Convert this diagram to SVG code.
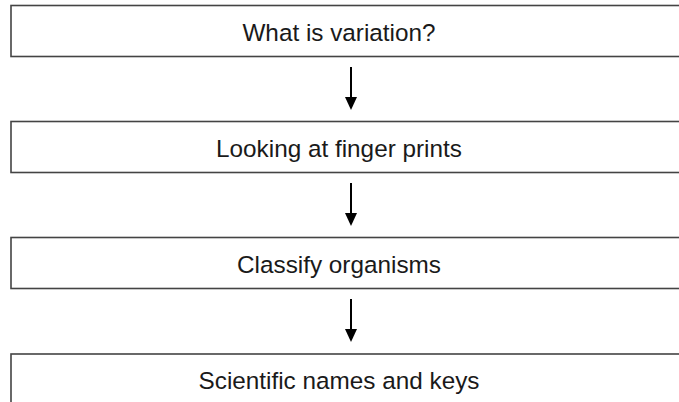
<svg xmlns="http://www.w3.org/2000/svg" width="679" height="402" viewBox="0 0 679 402">
  <style>
    .box { fill: #ffffff; stroke: #444444; stroke-width: 1.6; }
    .label { font-family: "Liberation Sans", Arial, sans-serif; font-size: 24.3px; fill: #1a1a1a; text-anchor: middle; }
    .conn { stroke: #000000; stroke-width: 2; fill: none; }
  </style>
  <rect width="679" height="402" fill="#ffffff"/>
  <g id="node-variation">
    <rect class="box" x="11" y="5.5" width="690" height="51"/>
    <text class="label" x="339" y="41">What is variation?</text>
  </g>
  <g id="node-fingerprints">
    <rect class="box" x="11" y="121.5" width="690" height="51"/>
    <text class="label" x="339" y="157">Looking at finger prints</text>
  </g>
  <g id="node-classify">
    <rect class="box" x="11" y="237.5" width="690" height="51"/>
    <text class="label" x="339" y="273">Classify organisms</text>
  </g>
  <g id="node-scientific">
    <rect class="box" x="11" y="354" width="690" height="60"/>
    <text class="label" x="339" y="389">Scientific names and keys</text>
  </g>
  <g id="connectors">
    <path d="M351,67 V97" class="conn"/>
    <path d="M345,97 L357,97 L351,110 Z" fill="#000"/>
    <path d="M351,183 V213" class="conn"/>
    <path d="M345,213 L357,213 L351,226 Z" fill="#000"/>
    <path d="M351,299 V329" class="conn"/>
    <path d="M345,329 L357,329 L351,342 Z" fill="#000"/>
  </g>
</svg>
